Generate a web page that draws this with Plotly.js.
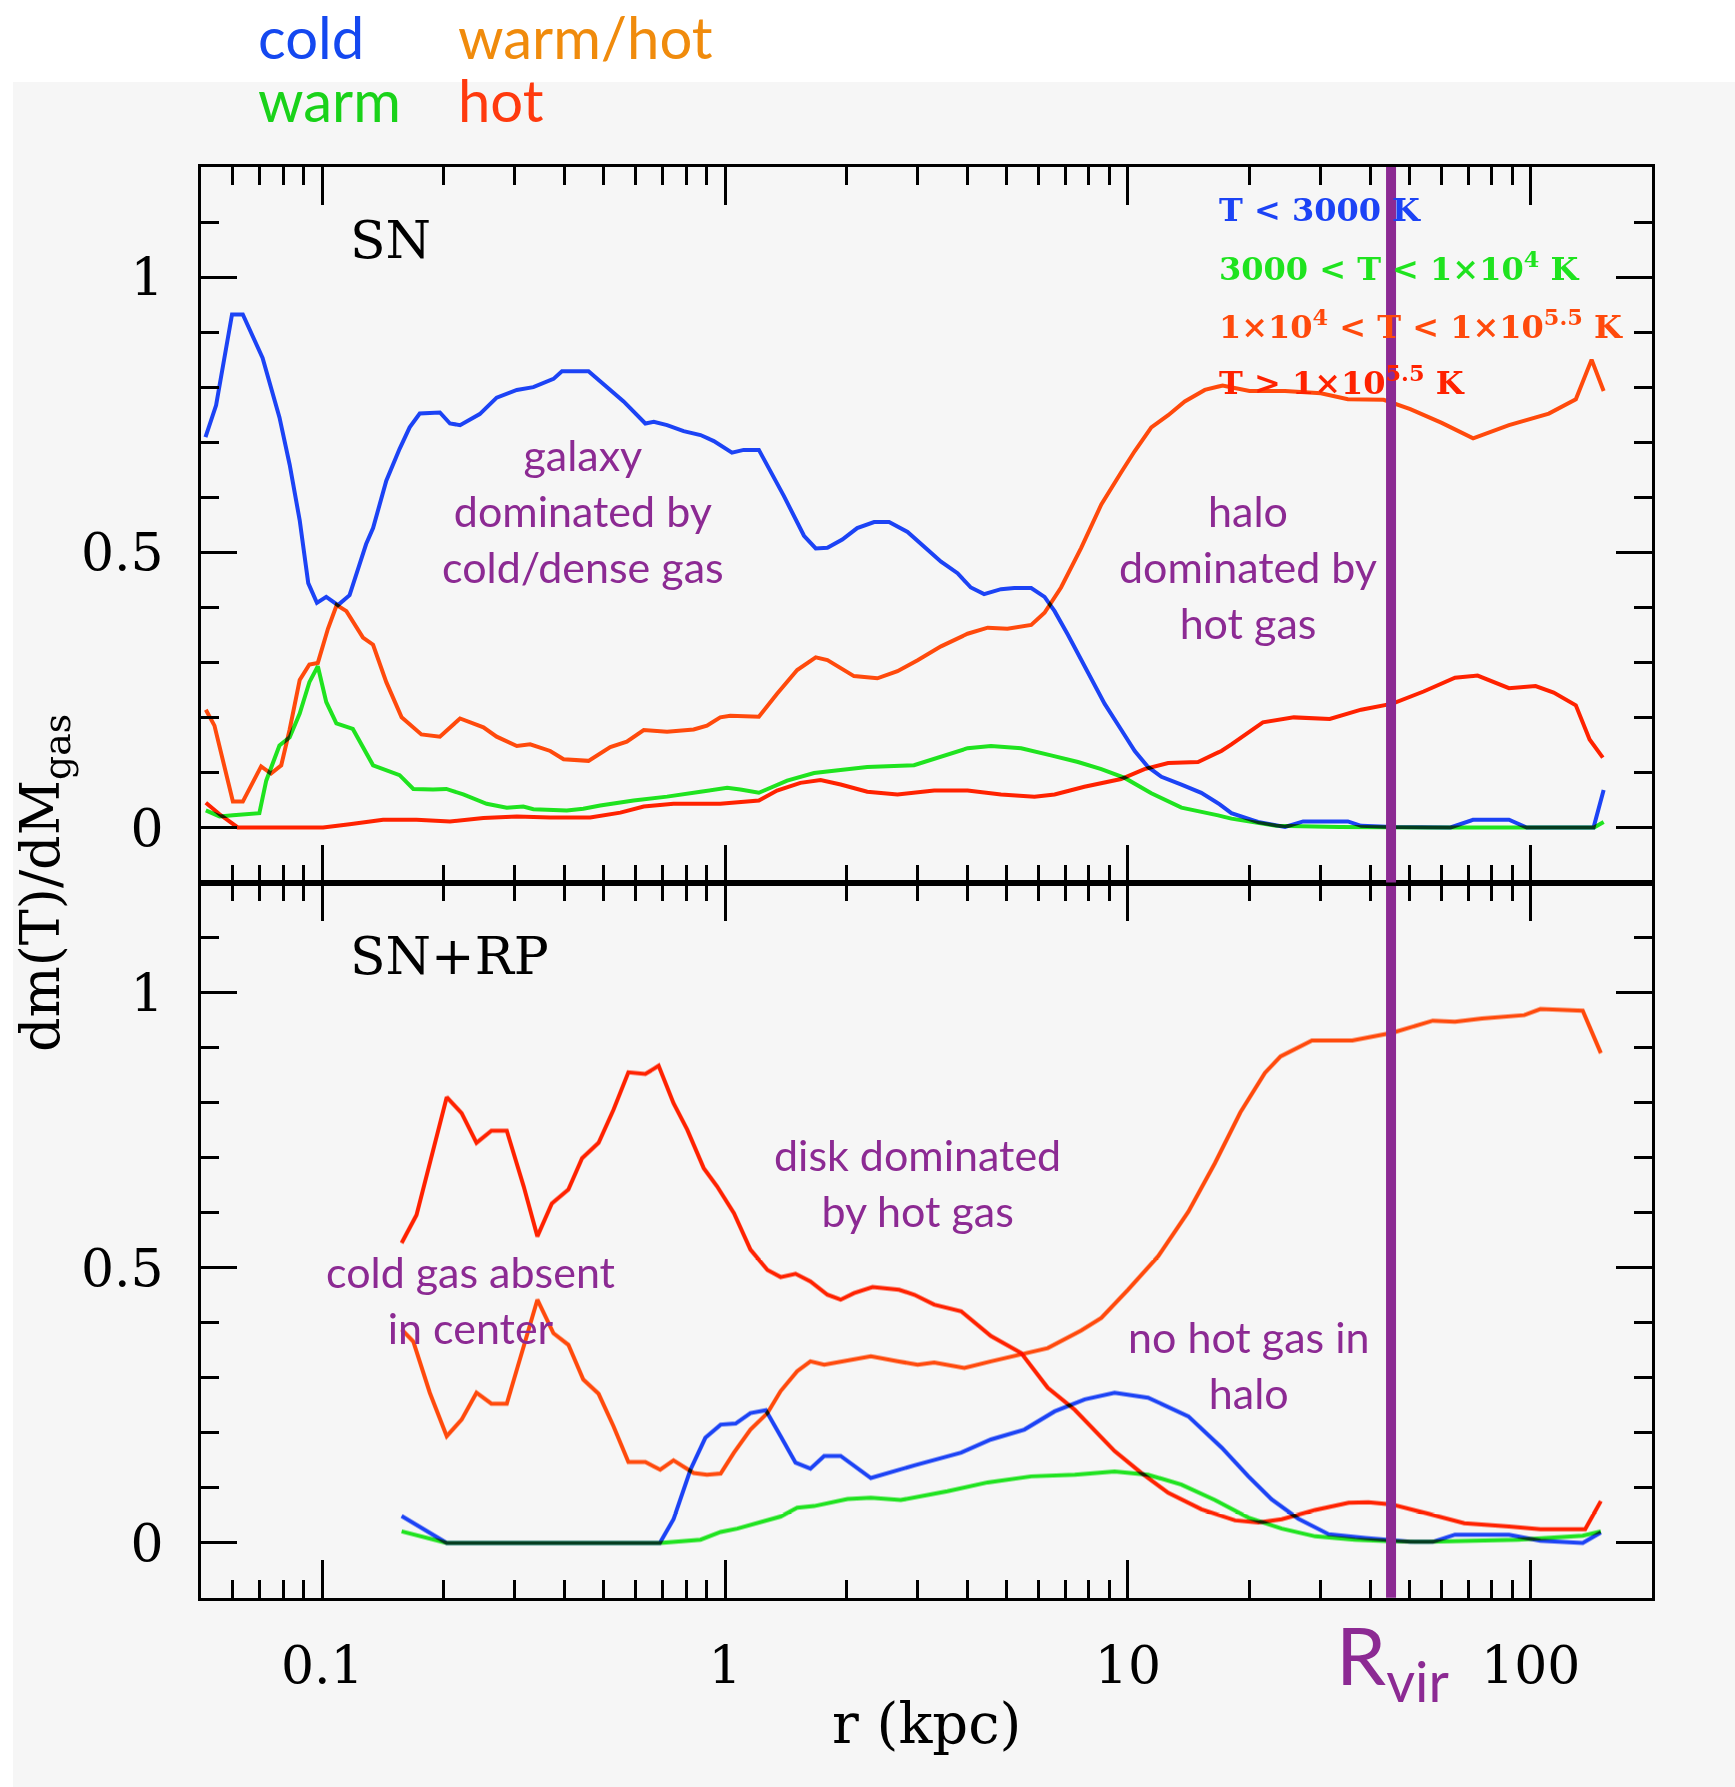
<!DOCTYPE html>
<html>
<head>
<meta charset="utf-8">
<script src="https://cdn.plot.ly/plotly-3.0.1.min.js"></script>
<style>
  html, body { margin: 0; padding: 0; background: #ffffff; }
  #chart { width: 1735px; height: 1787px; }
  /* curves darken where they cross; the last trace of each panel (R_vir marker) stays opaque */
  #chart .scatterlayer .trace:not(:last-child) path.js-line { mix-blend-mode: multiply; }
</style>
</head>
<body>
<div id="chart"></div>
<script>
// ---------- radial profiles: dm(T)/dM_gas versus r (kpc) ----------

// SN run (top panel)
const snColdR = [0.0513,0.0545,0.0597,0.0635,0.0711,0.0783,0.0830,0.0879,0.0923,0.0970,0.1023,0.1094,0.1169,0.1285,0.1337,0.1442,0.1556,0.1648,0.1746,0.1959,0.2075,0.2198,0.2460,0.2710,0.3041,0.3342,0.3750,0.3936,0.4581,0.4898,0.5598,0.6339,0.6653,0.7178,0.7889,0.8690,0.9376,1.040,1.112,1.213,1.400,1.570,1.679,1.795,1.954,2.128,2.344,2.553,2.838,3.177,3.436,3.776,4.074,4.395,4.842,5.224,5.754,6.209,6.577,7.096,7.798,8.750,9.616,10.40,11.22,12.11,13.58,15.21,16.90,18.07,21.04,24.55,27.23,31.70,35.16,37.93,45.39,63.24,71.94,88.31,97.72,143.2,151.7];
const snColdV = [0.709,0.767,0.932,0.932,0.853,0.745,0.659,0.558,0.444,0.408,0.419,0.404,0.422,0.515,0.544,0.630,0.688,0.727,0.752,0.754,0.734,0.731,0.751,0.781,0.795,0.800,0.815,0.829,0.829,0.810,0.774,0.734,0.737,0.731,0.720,0.713,0.702,0.681,0.686,0.686,0.602,0.530,0.507,0.508,0.523,0.544,0.555,0.555,0.537,0.505,0.483,0.462,0.436,0.424,0.433,0.435,0.435,0.419,0.393,0.350,0.293,0.225,0.178,0.139,0.110,0.092,0.078,0.063,0.042,0.026,0.010,0.001,0.011,0.010,0.011,0.003,0.001,0.0,0.014,0.014,0.0,0.0,0.068];

const snWarmR = [0.0514,0.0556,0.0600,0.0698,0.0726,0.0783,0.0830,0.0879,0.0929,0.0975,0.1023,0.1084,0.1191,0.1337,0.1556,0.1683,0.1884,0.2032,0.2239,0.2559,0.2871,0.3155,0.3342,0.4046,0.4446,0.4898,0.5929,0.7178,0.8690,1.012,1.091,1.213,1.426,1.663,1.862,2.254,2.944,3.436,3.999,4.571,5.433,6.442,7.516,8.590,9.817,11.43,13.58,16.75,18.07,23.33,33.42,55.72,92.90,143.6,151.7];
const snWarmV = [0.031,0.020,0.022,0.026,0.085,0.149,0.164,0.207,0.264,0.293,0.228,0.189,0.179,0.113,0.095,0.070,0.069,0.070,0.060,0.043,0.036,0.038,0.033,0.031,0.034,0.040,0.049,0.056,0.065,0.072,0.069,0.063,0.085,0.099,0.103,0.110,0.113,0.128,0.144,0.148,0.144,0.131,0.119,0.106,0.090,0.062,0.036,0.022,0.016,0.003,0.001,0.0,0.0,0.0,0.010];

const snWarmHotR = [0.0514,0.0540,0.0600,0.0635,0.0705,0.0746,0.0791,0.0830,0.0879,0.0929,0.0975,0.1033,0.1086,0.1148,0.1262,0.1337,0.1442,0.1574,0.1762,0.1959,0.2198,0.2512,0.2710,0.3041,0.3281,0.3681,0.3972,0.4581,0.5188,0.5702,0.6281,0.7178,0.8356,0.9016,0.9727,1.030,1.213,1.346,1.510,1.679,1.795,2.089,2.388,2.679,3.006,3.436,3.999,4.487,5.023,5.754,6.209,6.823,7.656,8.590,9.616,10.40,11.43,12.59,13.84,15.52,17.18,20.04,24.55,30.13,35.16,43.15,50.23,60.12,71.94,88.31,110.9,129.4,141.6,151.7];
const snWarmHotV = [0.214,0.185,0.047,0.047,0.111,0.098,0.113,0.178,0.268,0.296,0.299,0.361,0.404,0.393,0.345,0.332,0.264,0.200,0.169,0.165,0.198,0.182,0.165,0.148,0.151,0.139,0.124,0.121,0.146,0.156,0.177,0.174,0.178,0.185,0.200,0.203,0.201,0.243,0.286,0.309,0.304,0.275,0.271,0.284,0.304,0.329,0.352,0.363,0.361,0.368,0.390,0.436,0.508,0.587,0.645,0.684,0.727,0.749,0.774,0.795,0.803,0.793,0.793,0.789,0.778,0.777,0.760,0.735,0.707,0.731,0.752,0.778,0.850,0.793];

const snHotR = [0.0514,0.0556,0.0617,0.1005,0.1169,0.1416,0.1714,0.2075,0.2512,0.3041,0.3681,0.4624,0.5495,0.6281,0.7447,0.9727,1.213,1.346,1.538,1.726,1.936,2.254,2.679,3.304,3.999,4.842,5.861,6.577,7.798,9.616,10.99,12.59,14.93,17.06,18.07,21.63,25.82,31.70,37.93,45.39,54.20,64.86,73.79,88.31,102.8,114.0,129.4,140.0,151.0];
const snHotV = [0.045,0.024,0.0,0.0,0.006,0.014,0.014,0.011,0.017,0.020,0.018,0.018,0.027,0.038,0.043,0.043,0.049,0.067,0.081,0.086,0.078,0.065,0.060,0.067,0.067,0.060,0.056,0.060,0.074,0.088,0.106,0.117,0.119,0.139,0.151,0.191,0.200,0.197,0.214,0.225,0.247,0.272,0.276,0.253,0.257,0.245,0.222,0.160,0.127];

// SN+RP run (bottom panel)
const rpColdR = [0.1574,0.2037,0.6887,0.7447,0.8204,0.8933,0.9750,1.062,1.156,1.262,1.374,1.496,1.629,1.762,1.936,2.301,2.951,3.855,4.571,5.534,6.577,7.816,9.268,11.22,14.13,17.10,19.91,22.75,26.49,31.48,38.82,45.19,50.23,57.15,64.86,88.31,105.7,134.6,149.3];
const rpColdV = [0.049,0.0,0.0,0.043,0.133,0.191,0.215,0.217,0.236,0.241,0.194,0.146,0.135,0.158,0.158,0.118,0.141,0.164,0.188,0.206,0.239,0.261,0.273,0.264,0.230,0.173,0.121,0.079,0.044,0.016,0.009,0.005,0.002,0.002,0.015,0.015,0.004,0.0,0.019];

const rpWarmR = [0.1574,0.2037,0.6887,0.8690,0.9750,1.072,1.374,1.510,1.663,2.014,2.301,2.729,3.565,4.487,5.754,7.379,9.268,11.22,13.58,16.44,19.91,24.10,29.17,36.64,45.19,55.72,92.90,134.6,149.3];
const rpWarmV = [0.021,0.0,0.0,0.006,0.020,0.026,0.048,0.064,0.067,0.080,0.082,0.078,0.094,0.110,0.121,0.124,0.130,0.124,0.106,0.078,0.046,0.026,0.012,0.006,0.003,0.002,0.006,0.013,0.021];

const rpWarmHotR = [0.1574,0.1683,0.1849,0.2037,0.2218,0.2415,0.2630,0.2871,0.3162,0.3420,0.3750,0.4083,0.4446,0.4853,0.5284,0.5754,0.6339,0.6902,0.7447,0.8356,0.9016,0.9750,1.052,1.156,1.274,1.374,1.510,1.629,1.762,2.014,2.301,2.679,3.006,3.304,3.926,4.571,5.433,6.324,7.656,8.590,10.00,11.89,14.13,16.44,19.01,21.88,23.93,28.64,36.06,45.39,57.15,64.86,75.68,96.38,105.7,134.6,149.3];
const rpWarmHotV = [0.388,0.366,0.273,0.194,0.224,0.273,0.253,0.253,0.357,0.442,0.381,0.360,0.297,0.271,0.212,0.147,0.147,0.133,0.150,0.127,0.124,0.126,0.164,0.206,0.236,0.276,0.312,0.330,0.324,0.332,0.339,0.330,0.324,0.328,0.318,0.330,0.342,0.354,0.386,0.409,0.460,0.521,0.602,0.690,0.782,0.854,0.884,0.913,0.913,0.927,0.949,0.947,0.953,0.959,0.970,0.967,0.890];

const rpHotR = [0.1574,0.1714,0.2037,0.2218,0.2415,0.2630,0.2871,0.3162,0.3420,0.3715,0.4083,0.4416,0.4853,0.5284,0.5754,0.6339,0.6839,0.7447,0.8054,0.8851,0.9550,1.052,1.156,1.274,1.374,1.496,1.629,1.795,1.936,2.089,2.323,2.529,2.704,2.951,3.304,3.855,4.571,5.433,6.324,7.379,9.268,10.81,12.59,15.24,18.45,21.09,24.10,29.17,35.32,39.54,45.19,55.72,68.39,88.31,105.7,136.5,149.3];
const rpHotV = [0.545,0.596,0.810,0.781,0.727,0.749,0.749,0.648,0.557,0.617,0.642,0.699,0.727,0.787,0.855,0.852,0.867,0.799,0.751,0.681,0.648,0.599,0.533,0.496,0.483,0.489,0.475,0.451,0.442,0.454,0.465,0.463,0.460,0.451,0.433,0.421,0.376,0.345,0.282,0.242,0.167,0.127,0.091,0.061,0.041,0.037,0.043,0.060,0.073,0.074,0.070,0.053,0.036,0.030,0.025,0.025,0.076];

// virial radius (kpc)
const rVir = 45;

// axes
const xRange = [0.05, 200];
const xTickVals = [0.1, 1, 10, 100];
const xTickText = ['0.1', '1', '10', '100'];
const yRange = [-0.1, 1.2];
const yTickVals = [0, 0.5, 1];
const yTickText = ['0', '0.5', '1'];

// temperature bins
const binLabels = [
  'T &lt; 3000 K',
  '3000 &lt; T &lt; 1×10<sup>4</sup> K',
  '1×10<sup>4</sup> &lt; T &lt; 1×10<sup>5.5</sup> K',
  'T &gt; 1×10<sup>5.5</sup> K'
];
const headerLabels = ['cold', 'warm', 'warm/hot', 'hot'];

// ---------- styling ----------
const C = {
  cold: '#1c43f5', warm: '#1fe31f', warmHot: '#ff4a0c', hot: '#ff2200',
  hCold: '#1448f0', hWarm: '#19d219', hWarmHot: '#f08b0c', hHot: '#ff3a0e',
  purple: '#8c2a93', bg: '#f6f6f6'
};
const LW = 4;

// frame geometry (pixels)
const W = 1735, H = 1787, L = 201, R = 1652, T = 167, B = 1598;
const px = X => (X - L) / (R - L);
const py = Y => (B - Y) / (B - T);

function curve(r, v, color, xa, ya) {
  return { x: r, y: v, xaxis: xa, yaxis: ya, type: 'scatter', mode: 'lines',
           line: { color: color, width: LW }, showlegend: false, hoverinfo: 'skip' };
}
function rvirLine(xa, ya) {
  return { x: [rVir, rVir], y: yRange, xaxis: xa, yaxis: ya, type: 'scatter', mode: 'lines',
           line: { color: C.purple, width: 10 }, showlegend: false, hoverinfo: 'skip' };
}

const data = [
  curve(snWarmR, snWarmV, C.warm, 'x2', 'y2'),
  curve(snHotR, snHotV, C.hot, 'x2', 'y2'),
  curve(snWarmHotR, snWarmHotV, C.warmHot, 'x2', 'y2'),
  curve(snColdR, snColdV, C.cold, 'x2', 'y2'),
  rvirLine('x2', 'y2'),
  curve(rpWarmR, rpWarmV, C.warm, 'x', 'y'),
  curve(rpHotR, rpHotV, C.hot, 'x', 'y'),
  curve(rpWarmHotR, rpWarmHotV, C.warmHot, 'x', 'y'),
  curve(rpColdR, rpColdV, C.cold, 'x', 'y'),
  rvirLine('x', 'y')
];

// minor ticks at 2..9 of each decade
const xMinorVals = [];
[0.01, 0.1, 1, 10, 100].forEach(d => {
  for (let k = 2; k <= 9; k++) {
    const v = +(k * d).toPrecision(3);
    if (v > xRange[0] && v < xRange[1]) xMinorVals.push(v);
  }
});

const tickFont = { family: 'DejaVu Serif', size: 52, color: '#000' };
const xBase = {
  type: 'log', range: [Math.log10(xRange[0]), Math.log10(xRange[1])],
  showline: true, linecolor: '#000', linewidth: 3, mirror: 'allticks',
  ticks: 'inside', ticklen: 38, tickwidth: 3, tickcolor: '#000',
  tickmode: 'array', tickvals: xTickVals, ticktext: xTickText,
  minor: { tickmode: 'array', tickvals: xMinorVals, ticks: 'inside', ticklen: 18,
           tickwidth: 3, tickcolor: '#000', showgrid: false },
  showgrid: false, zeroline: false, tickfont: tickFont, ticklabelstandoff: 20
};
const yBase = {
  range: yRange, showline: true, linecolor: '#000', linewidth: 3, mirror: 'allticks',
  ticks: 'inside', ticklen: 36, tickwidth: 3, tickcolor: '#000',
  tickmode: 'array', tickvals: yTickVals, ticktext: yTickText,
  minor: { tickmode: 'linear', tick0: 0, dtick: 0.1, ticks: 'inside', ticklen: 18,
           tickwidth: 3, tickcolor: '#000', showgrid: false },
  showgrid: false, zeroline: false, tickfont: tickFont, ticklabelstandoff: 24
};

function ann(text, X, Y, font, extra) {
  return Object.assign({ text: text, xref: 'paper', yref: 'paper', x: px(X), y: py(Y),
    xanchor: 'center', yanchor: 'middle', showarrow: false, font: font, align: 'center' }, extra || {});
}
const headFont = c => ({ family: 'Lato', size: 58, color: c });
const headBox = { xanchor: 'left', height: 58, valign: 'middle' };
const noteFont = { family: 'Lato', size: 43, color: C.purple };
const binFont = c => ({ family: 'DejaVu Serif', size: 32, color: c, weight: 700 });
const serif = { family: 'DejaVu Serif', size: 52, color: '#000' };

const annotations = [
  ann(headerLabels[0], 256, 36, headFont(C.hCold), headBox),
  ann(headerLabels[1], 256, 99, headFont(C.hWarm), headBox),
  ann(headerLabels[2], 456, 36, headFont(C.hWarmHot), headBox),
  ann(headerLabels[3], 456, 99, headFont(C.hHot), headBox),

  ann('SN', 348, 240, serif, { xanchor: 'left' }),
  ann('SN+RP', 348, 956, serif, { xanchor: 'left' }),

  ann(binLabels[0], 1217, 210, binFont(C.cold), { xanchor: 'left' }),
  ann(binLabels[1], 1217, 267, binFont(C.warm), { xanchor: 'left' }),
  ann(binLabels[2], 1217, 325, binFont(C.warmHot), { xanchor: 'left' }),
  ann(binLabels[3], 1217, 381, binFont(C.hot), { xanchor: 'left' }),

  ann('galaxy<br>dominated by<br>cold/dense gas', 583, 510, noteFont),
  ann('halo<br>dominated by<br>hot gas', 1248, 566, noteFont),
  ann('disk dominated<br>by hot gas', 917, 1182, noteFont),
  ann('cold gas absent<br>in center', 470, 1299, noteFont),
  ann('no hot gas in<br>halo', 1248, 1364, noteFont),

  ann('R<sub>vir</sub>', 1392, 1660, { family: 'Lato', size: 80, color: C.purple }),

  ann('r (kpc)', 926, 1723, { family: 'DejaVu Serif', size: 56, color: '#000' }),
  ann('dm(T)/dM<sub>gas</sub>', 44, 883, { family: 'DejaVu Serif', size: 54, color: '#000' }, { textangle: -90 })
];

const shapes = [
  // white page margin above and left of the grey panel
  { type: 'rect', xref: 'paper', yref: 'paper', layer: 'below',
    x0: px(0), x1: px(W), y0: py(82), y1: py(0), fillcolor: '#ffffff', line: { width: 0 } },
  { type: 'rect', xref: 'paper', yref: 'paper', layer: 'below',
    x0: px(0), x1: px(13), y0: py(H), y1: py(0), fillcolor: '#ffffff', line: { width: 0 } }
];

const layout = {
  width: W, height: H, autosize: false,
  margin: { l: L, r: W - R, t: T, b: H - B, pad: 0 },
  paper_bgcolor: C.bg, plot_bgcolor: C.bg, showlegend: false,
  xaxis: Object.assign({}, xBase, { anchor: 'y', domain: [0, 1] }),
  xaxis2: Object.assign({}, xBase, { anchor: 'y2', domain: [0, 1], showticklabels: false }),
  yaxis: Object.assign({}, yBase, { anchor: 'x', domain: [0, 0.5] }),
  yaxis2: Object.assign({}, yBase, { anchor: 'x2', domain: [0.5, 1] }),
  annotations: annotations, shapes: shapes
};

Plotly.newPlot('chart', data, layout, { displayModeBar: false, staticPlot: true });
</script>
</body>
</html>
